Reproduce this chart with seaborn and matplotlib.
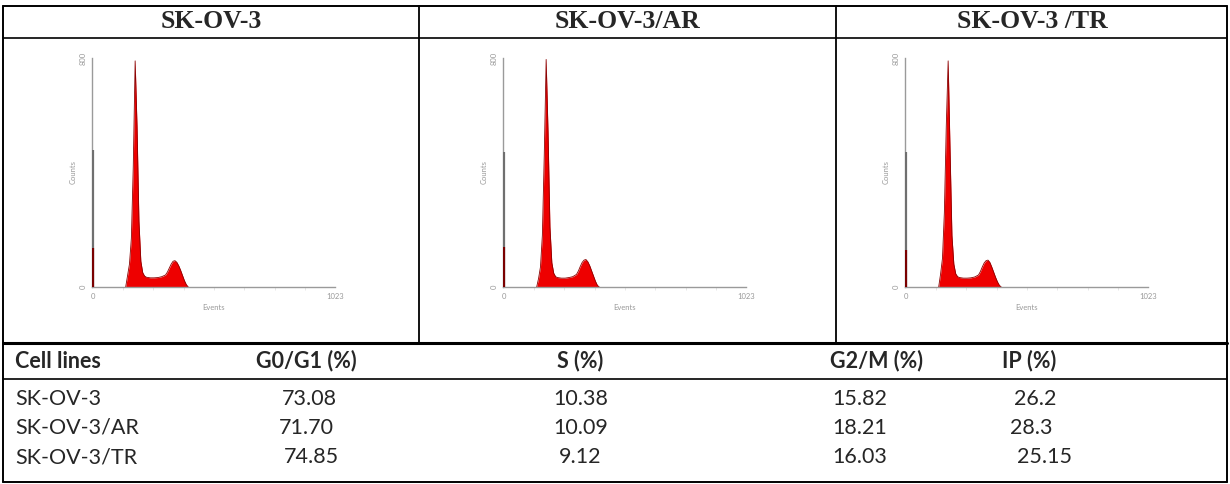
import numpy as np
import pandas as pd
import matplotlib
matplotlib.use("Agg")
import matplotlib.pyplot as plt
from matplotlib.lines import Line2D
import seaborn as sns

# ---------------- data ----------------
panel_titles = ["SK-OV-3", "SK-OV-3/AR", "SK-OV-3 /TR"]

# histogram channels and counts
channels = [140, 148, 156, 164, 172, 180, 188, 196, 204, 212, 220, 228, 244, 260,
            276, 292, 308, 316, 324, 332, 340, 348, 356, 364, 372, 380, 388, 396, 404]
counts_p1 = [0, 40, 80, 170, 420, 790, 560, 230, 90, 50, 38, 34, 32, 32,
             33, 36, 42, 52, 66, 80, 90, 92, 86, 74, 58, 40, 22, 8, 0]
counts_p2 = [0, 30, 70, 180, 460, 795, 540, 210, 85, 48, 36, 33, 31, 31,
             33, 36, 44, 56, 72, 86, 94, 96, 88, 74, 56, 38, 20, 6, 0]
counts_p3 = [0, 45, 100, 260, 560, 790, 480, 180, 80, 46, 36, 33, 31, 31,
             32, 35, 42, 54, 70, 84, 92, 94, 86, 70, 52, 34, 18, 6, 0]
hist_counts = [counts_p1, counts_p2, counts_p3]
debris_gray = [480, 470, 470]   # channel-0 events (grey part)
debris_red = [135, 140, 130]    # channel-0 events (red part)

col_headers = ["Cell lines", "G0/G1 (%)", "S (%)", "G2/M (%)", "IP (%)"]
cell_lines = ["SK-OV-3", "SK-OV-3/AR", "SK-OV-3/TR"]
g0g1 = ["73.08", "71.70", "74.85"]
s_phase = ["10.38", "10.09", "9.12"]
g2m = ["15.82", "18.21", "16.03"]
ip = ["26.2", "28.3", "25.15"]

# ---------------- figure ----------------
sns.set_theme(style="white")
plt.rcParams["font.family"] = ["Lato", "DejaVu Sans"]

W, H = 1230, 484
fig = plt.figure(figsize=(W / 100, H / 100), dpi=100)
fig.patch.set_facecolor("white")


def fx(x):
    return x / W


def fy(y):
    return 1 - y / H


def hline(y, x0, x1, lw=1.2):
    fig.add_artist(Line2D([fx(x0), fx(x1)], [fy(y), fy(y)], color="black", lw=lw,
                          transform=fig.transFigure))


def vline(x, y0, y1, lw=1.2):
    fig.add_artist(Line2D([fx(x), fx(x)], [fy(y0), fy(y1)], color="black", lw=lw,
                          transform=fig.transFigure))


# table grid
L, R, T, B = 3, 1227, 6, 482
hline(T, L, R, 1.4)
hline(B, L, R, 1.4)
vline(L, T, B, 1.4)
vline(R, T, B, 1.4)
hline(38, L, R, 1.2)
hline(343, L, R, 2.2)
hline(379, L, R, 1.2)
vline(419, T, 343, 1.3)
vline(836, T, 343, 1.3)

# panel headers
centers = [211, 627, 1032]
for c, t in zip(centers, panel_titles):
    fig.text(fx(c), fy(22), t, ha="center", va="center", fontsize=18.5,
             fontweight="bold", family=["Liberation Serif", "DejaVu Serif"])

# histogram panels
axes_x = [92, 503, 905]
ax_w = 243
ax_top, ax_bot = 58, 287
for i, x0 in enumerate(axes_x):
    ax = fig.add_axes([fx(x0), fy(ax_bot), ax_w / W, (ax_bot - ax_top) / H])
    df = pd.DataFrame({"channel": channels, "count": hist_counts[i]})
    ax.fill_between(df["channel"], 0, df["count"], color="#ee0000", lw=0)
    sns.lineplot(data=df, x="channel", y="count", color="#8a0000", lw=0.6,
                 ax=ax, estimator=None, sort=False)
    ax.vlines([4], 0, [debris_gray[i]], color="#6f6f6f", lw=1.6, zorder=5)
    ax.vlines([4], 0, [debris_red[i]], color="#7a0000", lw=1.6, zorder=6)
    ax.set_xlim(-2, 1023)
    ax.set_ylim(0, 800)
    for s in ["top", "right"]:
        ax.spines[s].set_visible(False)
    for s in ["left", "bottom"]:
        ax.spines[s].set_color("#9a9a9a")
        ax.spines[s].set_linewidth(1.0)
    ax.set_xticks([0, 1023])
    ax.set_xticklabels(["0", "1023"])
    ax.set_yticks([0, 800])
    ax.set_yticklabels(["0", "800"], rotation=90, va="center")
    ax.set_xticks(np.arange(128, 1023, 128), minor=True)
    ax.tick_params(axis="both", which="major", length=2, width=0.5, color="#bbbbbb",
                   labelsize=5.5, labelcolor="#999999", pad=2)
    ax.tick_params(axis="x", which="minor", length=2, width=0.5, color="#dddddd",
                   bottom=True)
    ax.set_xlabel("Events", fontsize=5.5, color="#999999", labelpad=3)
    ax.set_ylabel("Counts", fontsize=5.5, color="#999999", labelpad=2)
    ax.patch.set_alpha(0)

# lower table
fs = 15.5
hdr_x = [15, 256, 557, 830, 1002]
hdr_y = 361
for x, t in zip(hdr_x, col_headers):
    fig.text(fx(x), fy(hdr_y), t, ha="left", va="center", fontsize=fs,
             fontweight="bold")

row_y = [399, 428, 457]
val_x = {
    "g0g1": [282, 279, 284],
    "s": [553, 553, 559],
    "g2m": [832, 832, 832],
    "ip": [1014, 1010, 1017],
}
for r in range(3):
    y = fy(row_y[r])
    fig.text(fx(15), y, cell_lines[r], ha="left", va="center", fontsize=fs)
    fig.text(fx(val_x["g0g1"][r]), y, g0g1[r], ha="left", va="center", fontsize=fs)
    fig.text(fx(val_x["s"][r]), y, s_phase[r], ha="left", va="center", fontsize=fs)
    fig.text(fx(val_x["g2m"][r]), y, g2m[r], ha="left", va="center", fontsize=fs)
    fig.text(fx(val_x["ip"][r]), y, ip[r], ha="left", va="center", fontsize=fs)

fig.savefig("out.png", dpi=100, facecolor="white")
